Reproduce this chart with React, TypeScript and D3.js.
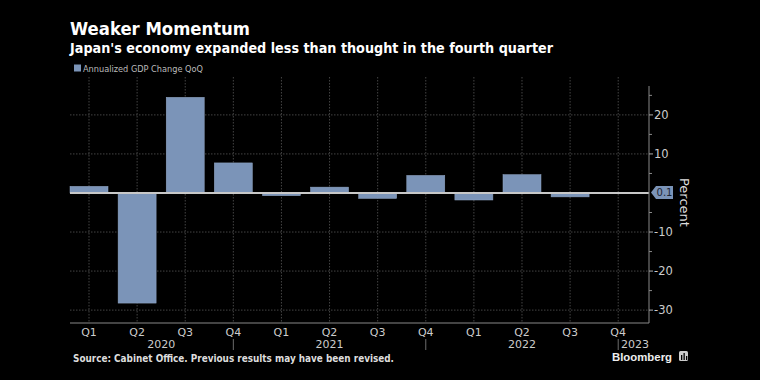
import React from "react";
import * as d3 from "d3";

const quarters = ["Q1", "Q2", "Q3", "Q4", "Q1", "Q2", "Q3", "Q4", "Q1", "Q2", "Q3", "Q4"];
const gdpChange = [1.7, -28.2, 24.5, 7.7, -0.7, 1.5, -1.4, 4.5, -1.8, 4.7, -1.0, 0.1];
const yearLabels = ["2020", "2021", "2022", "2023"];
const yearLabelPos = [1.5, 5.0, 9.0, 11.35];
const yearSeparators = [3, 7, 11];
const yMajorTicks = [20, 10, -10, -20, -30];
const yMinorTicks = [25, 15, 5, -5, -15, -25];

const W = 760;
const H = 380;
const left = 70;
const right = 649;
const top = 77;
const bottom = 323;
const barColor = "#7b94b8";
const font = "'DejaVu Sans', sans-serif";

export default function App() {
  const x = d3.scaleLinear().domain([-0.395, 11.64]).range([left, right]);
  const y = d3.scaleLinear().domain([27.4, -33.3]).range([86, bottom]);
  const step = x(1) - x(0);
  const bw = step * 0.79;
  const last = gdpChange[gdpChange.length - 1];
  const ly = y(last);

  return (
    <svg width={W} height={H} style={{ position: "absolute", left: 0, top: 0, background: "#000" }}>
      <rect x={0} y={0} width={W} height={H} fill="#000" />
      <text x={70} y={34.5} fill="#fff" fontFamily={font} fontWeight="bold" fontSize={17.5} textLength={180} lengthAdjust="spacingAndGlyphs">Weaker Momentum</text>
      <text x={70} y={52.5} fill="#fff" fontFamily={font} fontWeight="bold" fontSize={13.2} textLength={483} lengthAdjust="spacingAndGlyphs">Japan's economy expanded less than thought in the fourth quarter</text>
      <rect x={74} y={64.5} width={7} height={7} fill={barColor} />
      <text x={83} y={72} fill="#bbb" fontFamily={font} fontSize={9} textLength={120} lengthAdjust="spacingAndGlyphs">Annualized GDP Change QoQ</text>

      {/* horizontal grid */}
      {yMajorTicks.map((t) => (
        <line key={"h" + t} x1={left} x2={right} y1={y(t)} y2={y(t)} stroke="#555" strokeWidth={0.8} strokeDasharray="1.5,1.5" />
      ))}
      {/* vertical grid */}
      {quarters.map((q, i) => (
        <line key={"v" + i} x1={x(i)} x2={x(i)} y1={top} y2={bottom} stroke="#555" strokeWidth={0.8} strokeDasharray="1.5,1.5" />
      ))}

      {/* bars */}
      {gdpChange.map((v, i) => (
        <rect
          key={"b" + i}
          x={x(i) - bw / 2}
          y={Math.min(y(v), y(0))}
          width={bw}
          height={Math.abs(y(v) - y(0))}
          fill={barColor}
          stroke="#93a8c6"
          strokeWidth={0.5}
        />
      ))}
      {/* zero line */}
      <line x1={left} x2={right} y1={y(0)} y2={y(0)} stroke="#c8c8c8" strokeWidth={1.8} />

      {/* bottom axis */}
      <line x1={left} x2={right} y1={bottom} y2={bottom} stroke="#888" strokeWidth={1} />
      {quarters.map((q, i) => (
        <text key={"q" + i} x={x(i)} y={336} textAnchor="middle" fill="#ccc" fontFamily={font} fontSize={11}>{q}</text>
      ))}
      {yearLabels.map((yl, i) => (
        <text key={"y" + yl} x={x(yearLabelPos[i])} y={348} textAnchor="middle" fill="#ccc" fontFamily={font} fontSize={11}>{yl}</text>
      ))}
      {yearSeparators.map((s) => (
        <line key={"s" + s} x1={x(s)} x2={x(s)} y1={339} y2={350} stroke="#888" strokeWidth={0.8} />
      ))}

      {/* right axis */}
      <line x1={right} x2={right} y1={86} y2={bottom} stroke="#888" strokeWidth={1} />
      {yMajorTicks.map((t) => (
        <g key={"yt" + t}>
          <line x1={right} x2={right + 4} y1={y(t)} y2={y(t)} stroke="#aaa" strokeWidth={1} />
          <text x={right + 5} y={y(t) + 4} fill="#ccc" fontFamily={font} fontSize={11.5}>{t < 0 ? "-" + Math.abs(t) : t}</text>
        </g>
      ))}
      {yMinorTicks.map((t) => (
        <line key={"ym" + t} x1={right} x2={right + 3} y1={y(t)} y2={y(t)} stroke="#888" strokeWidth={1} />
      ))}
      <text transform={`translate(680,${y(0) - 15}) rotate(90)`} fill="#ddd" fontFamily={font} fontSize={13}>Percent</text>

      {/* last value label */}
      <path d={`M${right + 2},${ly} L${right + 7},${ly - 6.5} L${right + 24},${ly - 6.5} L${right + 24},${ly + 6.5} L${right + 7},${ly + 6.5} Z`} fill={barColor} />
      <text x={right + 15.5} y={ly + 3.6} textAnchor="middle" fill="#1b2433" fontFamily={font} fontSize={10}>0.1</text>

      {/* footer */}
      <text x={73} y={361.5} fill="#ddd" fontFamily={font} fontWeight="bold" fontSize={10} textLength={321} lengthAdjust="spacingAndGlyphs">Source: Cabinet Office. Previous results may have been revised.</text>
      <text x={612} y={361} fill="#eee" fontFamily="'Liberation Sans', Arial, sans-serif" fontWeight="bold" fontSize={11.5} textLength={60} lengthAdjust="spacingAndGlyphs">Bloomberg</text>
      <rect x={679} y={351} width={9} height={10} rx={1.5} fill="#ccc" />
      <rect x={681} y={355} width={1.3} height={5} fill="#000" />
      <rect x={683.5} y={353} width={1.3} height={7} fill="#000" />
      <rect x={686} y={356} width={1.3} height={4} fill="#000" />
    </svg>
  );
}
